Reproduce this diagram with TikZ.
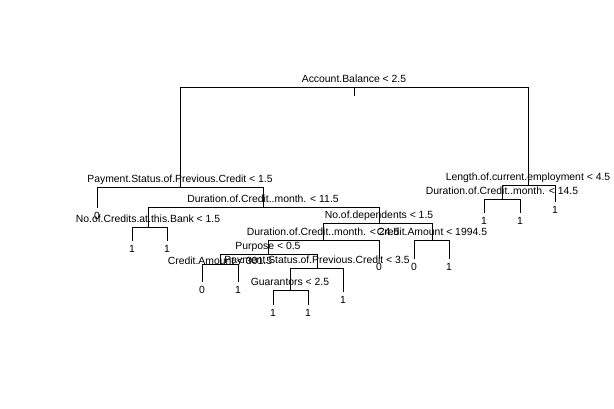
\documentclass[tikz,border=0pt]{standalone}
\usepackage{fontspec}
\setmainfont{Liberation Sans}
\usepackage{tikz}

\begin{document}
\begin{tikzpicture}[x=1pt,y=-1pt,line width=0.9pt,
  split/.style={anchor=base,yshift=5pt,inner sep=0pt,font=\fontsize{10.4}{12}\selectfont},
  leaf/.style={anchor=base,yshift=-11.5pt,inner sep=0pt,font=\fontsize{10.4}{12}\selectfont}]
\useasboundingbox (0,0) rectangle (614,408);
% split points
\coordinate (root) at (354,87);
\coordinate (rootstem) at (354,96);
\coordinate (pay1) at (180,187);
\coordinate (dur115) at (263,207);
\coordinate (ncred) at (148,227);
\coordinate (ndep) at (379,223);
\coordinate (dur245) at (323,240);
\coordinate (camt2) at (432,240);
\coordinate (purp) at (268,254);
\coordinate (camt1) at (220,264);
\coordinate (pay35) at (317,268);
\coordinate (guar) at (290,290);
\coordinate (len) at (528,185);
\coordinate (dur145) at (502,199);
% leaf ends
\coordinate (a0) at (97,208);
\coordinate (b1) at (132,241); \coordinate (b2) at (167,241);
\coordinate (c0) at (414,259); \coordinate (c1) at (449,259);
\coordinate (d0) at (379,259);
\coordinate (e0) at (202,282); \coordinate (e1) at (238,282);
\coordinate (f1) at (273,305); \coordinate (f2) at (308,305);
\coordinate (g1) at (343,292);
\coordinate (h1) at (484,213); \coordinate (h2) at (520,213);
\coordinate (k1) at (555,202);
% branches
\draw (root) -- (rootstem);
\draw (root) -| (pay1); \draw (root) -| (len);
\draw (pay1) -| (a0); \draw (pay1) -| (dur115);
\draw (dur115) -| (ncred); \draw (dur115) -| (ndep);
\draw (ncred) -| (b1); \draw (ncred) -| (b2);
\draw (ndep) -| (dur245); \draw (ndep) -| (camt2);
\draw (camt2) -| (c0); \draw (camt2) -| (c1);
\draw (dur245) -| (purp); \draw (dur245) -| (d0);
\draw (purp) -| (camt1); \draw (purp) -| (pay35);
\draw (camt1) -| (e0); \draw (camt1) -| (e1);
\draw (pay35) -| (guar); \draw (pay35) -| (g1);
\draw (guar) -| (f1); \draw (guar) -| (f2);
\draw (len) -| (dur145); \draw (len) -| (k1);
\draw (dur145) -| (h1); \draw (dur145) -| (h2);
% split labels
\node[split] (rootlab) at (root) {Account.Balance < 2.5};
\node[split] (pay1lab) at (pay1) {Payment.Status.of.Previous.Credit < 1.5};
\node[split] (dur115lab) at (dur115) {Duration.of.Credit..month. < 11.5};
\node[split] (ncredlab) at (ncred) {No.of.Credits.at.this.Bank < 1.5};
\node[split] (ndeplab) at (ndep) {No.of.dependents < 1.5};
\node[split] (dur245lab) at (dur245) {Duration.of.Credit..month. < 24.5};
\node[split] (camt2lab) at (camt2) {Credit.Amount < 1994.5};
\node[split] (purplab) at (purp) {Purpose < 0.5};
\node[split,yshift=-5pt] (camt1lab) at (camt1) {Credit.Amount < 301.5};
\node[split] (pay35lab) at (pay35) {Payment.Status.of.Previous.Credit < 3.5};
\node[split] (guarlab) at (guar) {Guarantors < 2.5};
\node[split] (lenlab) at (len) {Length.of.current.employment < 4.5};
\node[split] (dur145lab) at (dur145) {Duration.of.Credit..month. < 14.5};
% leaf labels
\node[leaf] (a0lab) at (a0) {0};
\node[leaf] (b1lab) at (b1) {1}; \node[leaf] (b2lab) at (b2) {1};
\node[leaf] (c0lab) at (c0) {0}; \node[leaf] (c1lab) at (c1) {1};
\node[leaf] (d0lab) at (d0) {0};
\node[leaf] (e0lab) at (e0) {0}; \node[leaf] (e1lab) at (e1) {1};
\node[leaf] (f1lab) at (f1) {1}; \node[leaf] (f2lab) at (f2) {1};
\node[leaf] (g1lab) at (g1) {1};
\node[leaf] (h1lab) at (h1) {1}; \node[leaf] (h2lab) at (h2) {1};
\node[leaf] (k1lab) at (k1) {1};
\end{tikzpicture}
\end{document}
